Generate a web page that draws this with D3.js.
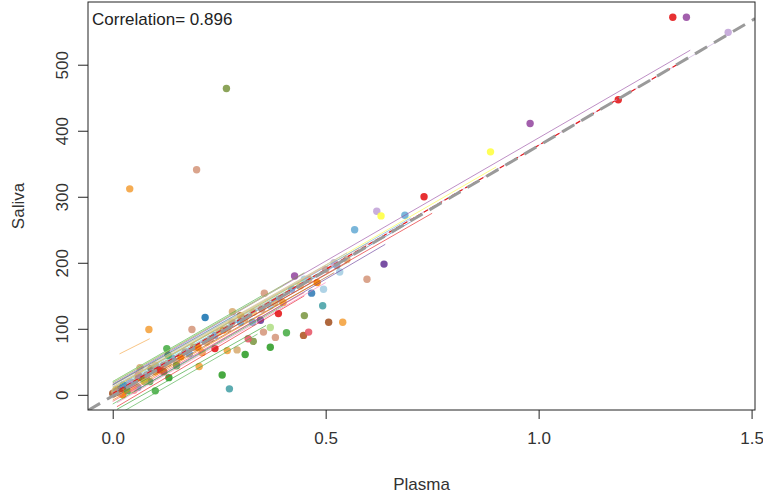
<!DOCTYPE html>
<html>
<head>
<meta charset="utf-8">
<script src="https://cdn.jsdelivr.net/npm/d3@7"></script>
<style>
  body { margin: 0; background: #fff; }
  text { font-family: "Liberation Sans", Arial, sans-serif; }
</style>
</head>
<body>
<svg id="chart" width="763" height="497"></svg>
<script>
var width = 763, height = 497;
var box = { left: 88, right: 755, top: 2, bottom: 410 };

var xTicks = [0, 0.5, 1.0, 1.5];
var yTicks = [0, 100, 200, 300, 400, 500];
var corrText = "Correlation= 0.896";

var palette = ["#E41A1C", "#377EB8", "#4DAF4A", "#984EA3", "#FF7F00", "#FFFF44", "#A65628",
    "#F781BF", "#66C2A5", "#D69A80", "#8DA0CB", "#A6D854", "#D9AE76", "#A6CEE3", "#1F78B4",
    "#B2DF8A", "#33A02C", "#FB9A99", "#FDBF6F", "#C3A5D8", "#6A3D9A", "#B15928", "#7F9A48",
    "#F4A340", "#6BAED6", "#4AA3A8", "#E75A6A"];

// [plasma, saliva, colour]
var points = [
    [0.04, 312, 23], [0.197, 341, 9], [0.267, 464, 22], [1.315, 572, 0], [1.347, 572, 3],
    [1.445, 549, 19], [1.187, 447, 0], [0.98, 411, 3], [0.887, 368, 5], [0.731, 300, 0],
    [0.686, 272, 24], [0.62, 278, 19], [0.63, 271, 5], [0.568, 250, 24], [0.637, 198, 20],
    [0.597, 175, 9], [0.54, 110, 23], [0.507, 110, 6], [0.533, 186, 13], [0.526, 196, 10],
    [0.427, 180, 3], [0.48, 170, 4], [0.467, 154, 1], [0.493, 135, 25], [0.495, 160, 13],
    [0.281, 126, 12], [0.186, 99, 9], [0.085, 99, 23], [0.217, 117, 14], [0.127, 70, 2],
    [0.064, 41, 12], [0.132, 26, 16], [0.087, 20, 2], [0.059, 11, 10], [0.0, 2, 6],
    [0.024, 0, 4], [0.24, 70, 0], [0.269, 67, 23], [0.292, 68, 12], [0.203, 43, 23],
    [0.328, 110, 24], [0.347, 113, 20], [0.354, 95, 9], [0.37, 102, 15], [0.389, 123, 0],
    [0.408, 94, 2], [0.45, 120, 22], [0.448, 90, 21], [0.46, 95, 26], [0.37, 72, 16],
    [0.33, 81, 22], [0.311, 61, 16], [0.318, 85, 26], [0.382, 87, 9], [0.257, 30, 16],
    [0.274, 9, 25], [0.3, 120, 4], [0.39, 145, 10], [0.356, 154, 9], [0.40, 140, 23],
    [0.005, 5, 12], [0.01, 8, 4], [0.015, 3, 9], [0.02, 10, 6], [0.03, 12, 23],
    [0.035, 6, 2], [0.04, 20, 19], [0.05, 18, 12], [0.06, 26, 4], [0.07, 25, 2],
    [0.08, 30, 9], [0.09, 40, 6], [0.1, 35, 23], [0.1, 45, 12], [0.11, 38, 0],
    [0.12, 45, 9], [0.13, 48, 18], [0.14, 55, 10], [0.15, 50, 12], [0.16, 58, 4],
    [0.17, 65, 9], [0.18, 62, 24], [0.19, 72, 23], [0.2, 72, 4], [0.21, 64, 23],
    [0.22, 80, 12], [0.23, 85, 9], [0.24, 90, 10], [0.25, 95, 18], [0.26, 98, 4],
    [0.27, 100, 12], [0.28, 110, 9], [0.3, 110, 24], [0.31, 115, 12], [0.33, 125, 18],
    [0.35, 130, 9], [0.37, 135, 13], [0.38, 140, 12], [0.42, 160, 10], [0.44, 165, 18],
    [0.46, 175, 12], [0.5, 190, 9], [0.52, 200, 19], [0.55, 205, 12], [0.45, 175, 13],
    [0.15, 44, 2], [0.1, 6, 2], [0.13, 60, 16], [0.06, 30, 26], [0.045, 15, 7],
    [0.025, 15, 14], [0.05, 7, 17], [0.075, 20, 11], [0.12, 35, 21]
];

// per-subject fits: [x0, y0, x1, y1, colour]
var fitLines = [
    [0.02, -27, 0.34, 92, 2], [0.01, -22, 0.36, 105, 16], [0.01, -18, 0.45, 150, 0],
    [0.01, -12, 0.5, 170, 7], [0.0, -8, 0.48, 170, 4], [0.0, -5, 0.52, 185, 6],
    [0.0, 16, 1.356, 522, 3], [0.0, 3, 1.445, 545, 19], [0.0, 2, 0.7, 262, 1],
    [0.0, 18, 0.45, 185, 22], [0.0, 20, 0.35, 150, 2], [0.0, 15, 0.6, 230, 12],
    [0.0, 10, 0.9, 345, 5], [0.0, 8, 0.7, 268, 24], [0.0, 12, 0.6, 225, 9],
    [0.0, 14, 0.55, 215, 18], [0.0, 6, 0.5, 190, 8], [0.0, 5, 0.55, 205, 10],
    [0.05, 5, 0.64, 228, 20], [0.0, -2, 0.75, 275, 0], [0.0, 10, 0.5, 195, 17],
    [0.0, 20, 0.4, 165, 15], [0.016, 62, 0.087, 85, 23], [0.0, 15, 0.3, 125, 14],
    [0.0, 0, 0.55, 200, 21], [0.0, 10, 0.45, 175, 11], [0.0, -14, 0.4, 135, 2],
    [0.0, -10, 0.45, 155, 26], [0.0, 12, 0.55, 215, 13]
];
var redFit = [0.0, 2, 1.33, 502];
var overallFit = { intercept: -1.7, slope: 379 };

var svg = d3.select("#chart");

var x = d3.scaleLinear().domain([-0.058, 1.508]).range([box.left, box.right]);
var y = d3.scaleLinear().domain([-23, 595]).range([box.bottom, box.top]);

svg.append("clipPath").attr("id", "plotclip")
    .append("rect")
    .attr("x", box.left).attr("y", box.top)
    .attr("width", box.right - box.left).attr("height", box.bottom - box.top);

var plot = svg.append("g").attr("clip-path", "url(#plotclip)");

plot.selectAll(".pt")
    .data(points)
    .join("circle")
    .attr("class", "pt")
    .attr("cx", d => x(d[0]))
    .attr("cy", d => y(d[1]))
    .attr("r", 3.7)
    .attr("fill", d => palette[d[2]])
    .attr("fill-opacity", 0.9);

plot.selectAll(".fit")
    .data(fitLines)
    .join("line")
    .attr("class", "fit")
    .attr("x1", d => x(d[0]))
    .attr("y1", d => y(d[1]))
    .attr("x2", d => x(d[2]))
    .attr("y2", d => y(d[3]))
    .attr("stroke", d => palette[d[4]])
    .attr("stroke-width", 0.8)
    .attr("stroke-opacity", 0.8);

plot.append("line")
    .attr("x1", x(redFit[0])).attr("y1", y(redFit[1]))
    .attr("x2", x(redFit[2])).attr("y2", y(redFit[3]))
    .attr("stroke", palette[0])
    .attr("stroke-width", 1.2)
    .attr("stroke-dasharray", "5,3");

var xd = x.domain();
plot.append("line")
    .attr("x1", x(xd[0])).attr("y1", y(overallFit.intercept + overallFit.slope * xd[0]))
    .attr("x2", x(xd[1])).attr("y2", y(overallFit.intercept + overallFit.slope * xd[1]))
    .attr("stroke", "#9a9a9a")
    .attr("stroke-width", 3)
    .attr("stroke-dasharray", "14,8");

// frame
svg.append("rect")
    .attr("x", box.left).attr("y", box.top)
    .attr("width", box.right - box.left).attr("height", box.bottom - box.top)
    .attr("fill", "none").attr("stroke", "#222").attr("stroke-width", 1);

var xAxis = svg.append("g")
    .attr("transform", "translate(0," + box.bottom + ")")
    .call(d3.axisBottom(x).tickValues(xTicks).tickFormat(d3.format(".1f")).tickSize(9).tickPadding(13));
xAxis.select(".domain").remove();
xAxis.selectAll("line").attr("stroke", "#222");
xAxis.selectAll("text").style("font-size", "17px").attr("fill", "#333")
    .style("font-family", "Liberation Sans, Arial, sans-serif");

var yAxis = svg.append("g")
    .attr("transform", "translate(" + box.left + ",0)")
    .call(d3.axisLeft(y).tickValues(yTicks).tickSize(10).tickPadding(0));
yAxis.select(".domain").remove();
yAxis.selectAll("line").attr("stroke", "#222");
yAxis.selectAll("text")
    .attr("x", 0).attr("dy", 0)
    .attr("transform", d => "translate(" + (-20) + ",0) rotate(-90)")
    .attr("text-anchor", "middle")
    .attr("fill", "#333")
    .style("font-size", "17px")
    .style("font-family", "Liberation Sans, Arial, sans-serif");

svg.append("text")
    .attr("x", (box.left + box.right) / 2)
    .attr("y", 490)
    .attr("text-anchor", "middle")
    .attr("fill", "#333")
    .style("font-size", "17px")
    .text("Plasma");

svg.append("text")
    .attr("transform", "translate(24," + ((box.top + box.bottom) / 2) + ") rotate(-90)")
    .attr("text-anchor", "middle")
    .attr("fill", "#333")
    .style("font-size", "17px")
    .text("Saliva");

svg.append("text")
    .attr("x", 92)
    .attr("y", 25)
    .attr("fill", "#222")
    .style("font-size", "17px")
    .text(corrText);
</script>
</body>
</html>
